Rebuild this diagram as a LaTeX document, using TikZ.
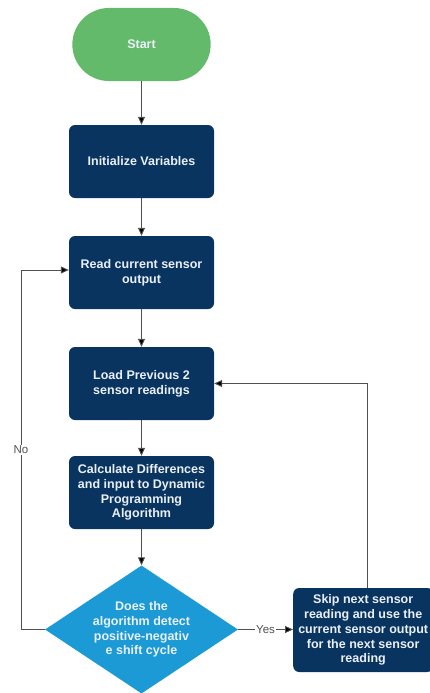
\documentclass[tikz,border=0pt]{standalone}
\usepackage{fontspec}
\setmainfont{Liberation Sans}
\usetikzlibrary{shapes.geometric,shapes.misc,arrows.meta}
\definecolor{startgreen}{RGB}{98,186,106}
\definecolor{navy}{RGB}{9,52,96}
\definecolor{diamblue}{RGB}{27,154,214}
\definecolor{linegray}{RGB}{80,80,80}
\definecolor{txtwhite}{RGB}{235,240,248}
\tikzset{
  x=1pt,y=1pt,
  boxfont/.style={text=txtwhite,font=\fontsize{12.5}{14.8}\selectfont\bfseries,align=center},
  proc/.style={boxfont,draw=none,fill=navy,rounded corners=6pt,minimum width=145pt,minimum height=73pt,inner sep=2pt},
  term/.style={boxfont,draw=none,fill=startgreen,rounded rectangle,minimum width=145pt,minimum height=73pt},
  decis/.style={boxfont,draw=none,fill=diamblue,diamond,aspect=1.5,minimum width=193pt,minimum height=128pt,inner sep=0pt},
  conn/.style={draw=linegray,line width=0.9pt,-{Triangle[length=8pt,width=7pt,fill=black]}},
  lbl/.style={font=\fontsize{11.5}{13}\selectfont,text=linegray,fill=white,inner sep=1pt},
}
\begin{document}
\begin{tikzpicture}
\useasboundingbox (0,0) rectangle (429,-693);
\node[term] (start) at (141.5,-44.5) {Start};
\node[proc] (init) at (141.5,-161.5) {Initialize Variables};
\node[proc] (read) at (141.5,-272.5) {Read current sensor\\output};
\node[proc] (load) at (141.5,-383.5) {Load Previous 2\\sensor readings};
\node[proc] (calc) at (141.5,-492.5) {Calculate Differences\\and input to Dynamic\\Programming\\Algorithm};
\node[decis] (dec) at (141.5,-629.5) {Does the\\algorithm detect\\positive-negativ\\e shift cycle};
\node[proc,minimum width=140pt,minimum height=84pt,anchor=west] (skip) at (293,-630) {Skip next sensor\\reading and use the\\current sensor output\\for the next sensor\\reading};
\coordinate (nocorner1) at (21,-629.5);
\coordinate (nocorner2) at (21,-270);
\coordinate (yescorner) at (367,-383.5);
\draw[conn] (start) -- (init);
\draw[conn] (init) -- (read);
\draw[conn] (read) -- (load);
\draw[conn] (load) -- (calc);
\draw[conn] (calc) -- (dec);
\draw[conn] (dec.east) -- node[lbl] {Yes} (skip.west |- dec.east);
\draw[conn] (dec.west) -- (nocorner1) -- node[lbl,pos=0.5] {No} (nocorner2) -- (read.west |- nocorner2);
\draw[conn] (skip.north -| yescorner) -- (yescorner) -- (load.east);
\end{tikzpicture}
\end{document}
